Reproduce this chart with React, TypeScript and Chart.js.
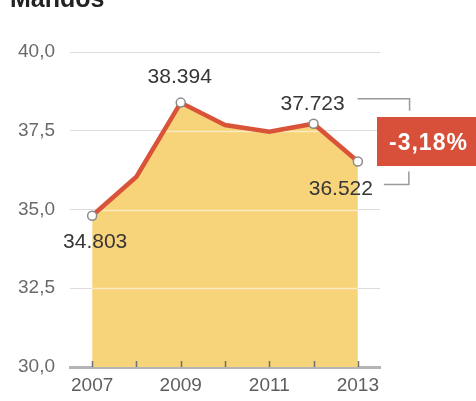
import React, { useEffect, useRef } from 'react';
import { Chart, registerables } from 'chart.js';

Chart.register(...registerables);

const TITLE = 'Mandos';
const YEARS = [2007, 2008, 2009, 2010, 2011, 2012, 2013];
const VALUES = [34.803, 36.04, 38.394, 37.68, 37.47, 37.723, 36.522];
const POINT_LABELS = ['34.803', '', '38.394', '', '', '37.723', '36.522'];
const Y_TICKS = [30, 32.5, 35, 37.5, 40];
const X_LABEL_YEARS = [2007, 2009, 2011, 2013];
const CHANGE_LABEL = '-3,18%';

// label offsets relative to the point (style only)
const LABEL_OFFSETS: Record<number, [number, number]> = {
  0: [3, 32],
  2: [-1, -20],
  5: [-1, -14],
  6: [-17, 33],
};

const FONT = '"Liberation Sans", Arial, sans-serif';
const FILL = 'rgb(247, 211, 122)';
const LINE = 'rgb(217, 83, 56)';

const overlayPlugin = {
  id: 'overlay',
  beforeDatasetsDraw(chart: any) {
    const ctx = chart.ctx;
    const area = chart.chartArea;
    const meta = chart.getDatasetMeta(0);
    const pts = meta.data;
    const y = chart.scales.y;
    ctx.save();
    ctx.beginPath();
    ctx.moveTo(pts[0].x, area.bottom);
    pts.forEach((p: any) => ctx.lineTo(p.x, p.y));
    ctx.lineTo(pts[pts.length - 1].x, area.bottom);
    ctx.closePath();
    ctx.clip();
    ctx.strokeStyle = 'rgba(255,255,255,0.55)';
    ctx.lineWidth = 1.5;
    Y_TICKS.forEach((v) => {
      if (v === 30) return;
      const py = Math.round(y.getPixelForValue(v)) + 0.5;
      ctx.beginPath();
      ctx.moveTo(area.left, py);
      ctx.lineTo(area.right, py);
      ctx.stroke();
    });
    ctx.restore();
  },
  afterDatasetsDraw(chart: any) {
    const ctx = chart.ctx;
    const area = chart.chartArea;
    const x = chart.scales.x;
    const meta = chart.getDatasetMeta(0);
    const pts = meta.data;
    ctx.save();
    // tick marks pointing up
    ctx.strokeStyle = '#6f6f6f';
    ctx.lineWidth = 1.5;
    YEARS.forEach((yr) => {
      const px = Math.round(x.getPixelForValue(yr)) + 0.5;
      ctx.beginPath();
      ctx.moveTo(px, area.bottom);
      ctx.lineTo(px, area.bottom - 6);
      ctx.stroke();
    });
    // point labels
    ctx.fillStyle = '#363636';
    ctx.font = `21px ${FONT}`;
    ctx.textAlign = 'center';
    ctx.textBaseline = 'alphabetic';
    POINT_LABELS.forEach((lbl, i) => {
      if (!lbl) return;
      const [dx, dy] = LABEL_OFFSETS[i] || [0, -20];
      ctx.fillText(lbl, pts[i].x + dx, pts[i].y + dy);
    });
    // bracket
    const p5 = pts[5];
    const p6 = pts[6];
    ctx.strokeStyle = '#9a9a9a';
    ctx.lineWidth = 1.5;
    ctx.beginPath();
    ctx.moveTo(p5.x + 44, p5.y - 25);
    ctx.lineTo(p5.x + 96, p5.y - 25);
    ctx.lineTo(p5.x + 96, p5.y - 13);
    ctx.stroke();
    ctx.beginPath();
    ctx.moveTo(p6.x + 26, p6.y + 23);
    ctx.lineTo(p6.x + 51, p6.y + 23);
    ctx.lineTo(p6.x + 51, p6.y + 10);
    ctx.stroke();
    // red box
    ctx.fillStyle = 'rgb(216, 80, 58)';
    ctx.fillRect(area.right - 3, 117, 110, 49);
    ctx.fillStyle = '#ffffff';
    ctx.font = `bold 23px ${FONT}`;
    ctx.textAlign = 'left';
    (ctx as any).letterSpacing = '1px';
    ctx.fillText(CHANGE_LABEL, area.right + 9, 150);
    (ctx as any).letterSpacing = '0px';
    // title
    ctx.fillStyle = '#222222';
    ctx.font = `bold 25px ${FONT}`;
    ctx.fillText(TITLE, 10, 7);
    ctx.restore();
  },
};

export default function App() {
  const ref = useRef<HTMLCanvasElement>(null);
  useEffect(() => {
    if (!ref.current) return;
    const chart = new Chart(ref.current, {
      type: 'line',
      data: {
        datasets: [
          {
            data: YEARS.map((yr, i) => ({ x: yr, y: VALUES[i] })),
            borderColor: LINE,
            borderWidth: 4.5,
            backgroundColor: FILL,
            fill: 'start',
            tension: 0,
            pointRadius: POINT_LABELS.map((l) => (l ? 4.5 : 0)),
            pointBackgroundColor: '#ffffff',
            pointBorderColor: '#8a8a8a',
            pointBorderWidth: 1.5,
          },
        ],
      },
      options: {
        animation: false,
        responsive: false,
        maintainAspectRatio: false,
        layout: { padding: { top: 52, right: 96, bottom: 0, left: 0 } },
        plugins: {
          legend: { display: false },
          tooltip: { enabled: false },
          filler: { drawTime: 'beforeDatasetsDraw' },
        } as any,
        scales: {
          x: {
            type: 'linear',
            min: 2006.5,
            max: 2013.5,
            afterBuildTicks: (s: any) => {
              s.ticks = YEARS.map((v) => ({ value: v }));
            },
            ticks: {
              autoSkip: false,
              maxRotation: 0,
              padding: 7,
              color: '#5e5e5e',
              font: { family: FONT, size: 19 },
              callback: (v: any) => (X_LABEL_YEARS.includes(Number(v)) ? String(v) : ''),
            },
            grid: { display: false, drawTicks: false },
            border: { display: true, color: '#b4b4b4', width: 3 },
            afterFit: (s: any) => {
              s.height = 34;
            },
          },
          y: {
            min: 30,
            max: 40,
            afterBuildTicks: (s: any) => {
              s.ticks = Y_TICKS.map((v) => ({ value: v }));
            },
            ticks: {
              padding: 15,
              color: '#6a6a6a',
              font: { family: FONT, size: 19 },
              callback: (v: any) => Number(v).toFixed(1).replace('.', ','),
            },
            grid: {
              color: (c: any) => (c.tick && c.tick.value === 30 ? 'rgba(0,0,0,0)' : '#dddddd'),
              lineWidth: 1,
              drawTicks: false,
            },
            border: { display: false },
            afterFit: (s: any) => {
              s.width = 70;
            },
          },
        },
      } as any,
      plugins: [overlayPlugin],
    });
    return () => chart.destroy();
  }, []);
  return (
    <div style={{ position: 'absolute', left: 0, top: 0, width: 476, height: 401, background: '#fff' }}>
      <canvas ref={ref} width={476} height={401} style={{ display: 'block' }} />
    </div>
  );
}
